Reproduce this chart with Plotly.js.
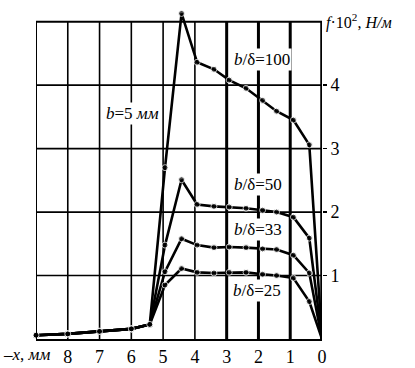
<!DOCTYPE html>
<html>
<head>
<meta charset="utf-8">
<script src="https://cdn.plot.ly/plotly-3.0.1.min.js"></script>
<style>html,body{margin:0;padding:0;background:#fff;}#chart{width:415px;height:368px;}
#chart text{font-family:"Liberation Serif","DejaVu Serif",serif !important;}</style>
</head>
<body>
<div id="chart"></div>
<script>
// Shared low part (x = -x, mm)
const xCommon = [9, 8, 7, 6, 5.42];
const yCommon = [0.06, 0.08, 0.12, 0.16, 0.23];
// Main part of each curve
const xMain = [4.94, 4.42, 3.93, 3.4, 2.92, 2.39, 1.87, 1.43, 0.9, 0.4, 0];
const s100 = [2.70, 5.13, 4.36, 4.25, 4.08, 3.95, 3.76, 3.59, 3.45, 3.06, 0];
const s50  = [1.48, 2.51, 2.12, 2.09, 2.08, 2.06, 2.03, 2.00, 1.92, 1.59, 0];
const s33  = [1.06, 1.58, 1.48, 1.44, 1.45, 1.44, 1.42, 1.41, 1.32, 1.04, 0];
const s25  = [0.85, 1.11, 1.05, 1.04, 1.05, 1.05, 1.02, 1.00, 0.96, 0.59, 0];
const seriesLabels = ['<i>b</i>/δ=100', '<i>b</i>/δ=50', '<i>b</i>/δ=33', '<i>b</i>/δ=25'];
const xTicks = [8, 7, 6, 5, 4, 3, 2, 1, 0];
const yTicks = [1, 2, 3, 4];
const thickGrid = [1, 2, 3];

const FONT = '"Liberation Serif", "DejaVu Serif", serif';
const allX = xCommon.concat(xMain);
const sizes = allX.map(v => v === 0 ? 0 : 6);

const traces = [s100, s50, s33, s25].map((s, i) => ({
  type: 'scatter', mode: 'lines+markers',
  x: allX, y: yCommon.concat(s),
  line: {color: '#000', width: 2.6},
  marker: {color: '#000', size: sizes},
  cliponaxis: false, showlegend: false, name: seriesLabels[i]
}));

const FRAME_TOP = 5, FRAME_LEFT = 9;
const shapes = thickGrid.map(v => ({
  type: 'line', xref: 'x', yref: 'y', x0: v, x1: v, y0: 0, y1: FRAME_TOP,
  line: {color: '#000', width: 3}, layer: 'below'
}));
[4, 5, 6, 7, 8].forEach(v => shapes.push({type: 'line', xref: 'x', yref: 'y', x0: v, x1: v, y0: 0, y1: FRAME_TOP,
  line: {color: '#000', width: 1.6}, layer: 'below'}));
yTicks.forEach(v => shapes.push({type: 'line', xref: 'x', yref: 'y', x0: FRAME_LEFT, x1: 0, y0: v, y1: v,
  line: {color: '#000', width: 1.6}, layer: 'below'}));
shapes.push({type: 'line', xref: 'x', yref: 'y', x0: FRAME_LEFT, x1: 0, y0: FRAME_TOP, y1: FRAME_TOP, line: {color: '#000', width: 2}});
shapes.push({type: 'line', xref: 'x', yref: 'y', x0: FRAME_LEFT, x1: FRAME_LEFT, y0: 0, y1: FRAME_TOP, line: {color: '#000', width: 2}});
shapes.push({type: 'line', xref: 'x', yref: 'y', x0: 0, x1: 0, y0: 0, y1: FRAME_TOP, line: {color: '#000', width: 3.5}});

const annFont = {family: FONT, size: 17, color: '#000'};
const annotations = [
  {xref: 'paper', yref: 'y', x: 1, y: 5, xanchor: 'left', yanchor: 'middle', xshift: 2,
   text: '<i>f</i>·10<sup>2</sup>, <i>Н/м</i>', showarrow: false, font: {family: FONT, size: 16, color: '#000'}},
  {xref: 'paper', yref: 'paper', x: 0, y: 0, xanchor: 'left', yanchor: 'top', xshift: -35, yshift: -4,
   text: '–<i>x</i>, <i>мм</i>', showarrow: false, font: {family: FONT, size: 17, color: '#000'}},
  {x: 1.89, y: 4.4, text: seriesLabels[0], showarrow: false, bgcolor: '#fff', font: annFont, borderpad: 1},
  {x: 5.97, y: 3.56, text: '<i>b</i>=5 <i>мм</i>', showarrow: false, bgcolor: '#fff', font: annFont, borderpad: 1},
  {x: 2.0, y: 2.43, text: seriesLabels[1], showarrow: false, bgcolor: '#fff', font: annFont, borderpad: 1},
  {x: 2.0, y: 1.73, text: seriesLabels[2], showarrow: false, bgcolor: '#fff', font: annFont, borderpad: 1},
  {x: 2.05, y: 0.76, text: seriesLabels[3], showarrow: false, bgcolor: '#fff', font: annFont, borderpad: 1}
];

const layout = {
  width: 415, height: 368,
  margin: {l: 36, r: 93, t: 9.3, b: 29, pad: 0},
  paper_bgcolor: '#fff', plot_bgcolor: 'rgba(0,0,0,0)',
  font: {family: FONT, size: 18, color: '#000'},
  xaxis: {
    range: [9, 0], tickvals: xTicks, ticktext: xTicks.map(String),
    showgrid: false, zeroline: false,
    showline: true, mirror: false, linecolor: '#000', linewidth: 2,
    ticks: '', tickfont: {family: FONT, size: 18}, fixedrange: true
  },
  yaxis: {
    side: 'right', range: [0, 5.2], tickvals: yTicks, ticktext: yTicks.map(String),
    showgrid: false, zeroline: false, showline: false,
    ticks: 'outside', ticklen: 4, tickwidth: 1.6, tickcolor: '#000',
    tickfont: {family: FONT, size: 18}, fixedrange: true
  },
  shapes: shapes,
  annotations: annotations
};

Plotly.newPlot('chart', traces, layout, {staticPlot: true, displayModeBar: false});
</script>
</body>
</html>
